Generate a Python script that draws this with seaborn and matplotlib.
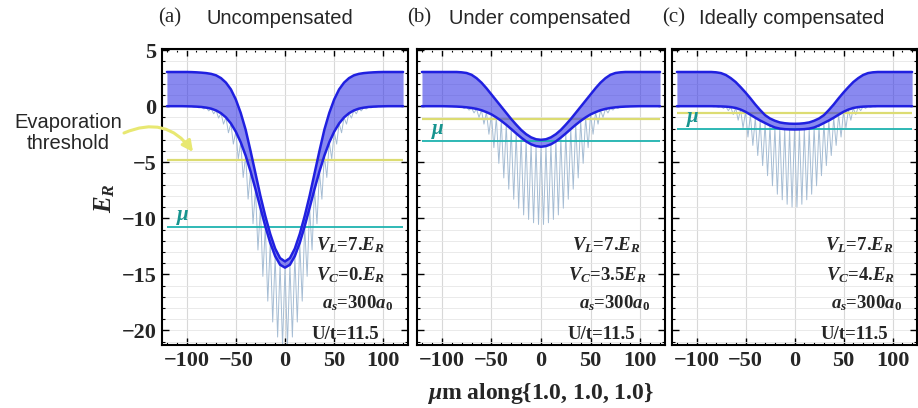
import numpy as np
import pandas as pd
import seaborn as sns
import matplotlib.pyplot as plt
from matplotlib.ticker import MultipleLocator

# positions along {1,1,1} in um; every profile is symmetric so only x >= 0 is listed
x_half = [0, 5, 10, 15, 20, 25, 30, 35, 40, 45, 50, 55, 60,
          65, 70, 75, 80, 85, 90, 95, 100, 105, 110, 115, 120]
# lattice sites (potential minima) between the listed points
x_site_half = [2.5, 7.5, 12.5, 17.5, 22.5, 27.5, 32.5, 37.5, 42.5, 47.5, 52.5, 57.5,
               62.5, 67.5, 72.5, 77.5, 82.5, 87.5, 92.5, 97.5, 102.5, 107.5, 112.5, 117.5]

panel_tags = ['(a)', '(b)', '(c)']
panel_titles = ['Uncompensated', 'Under compensated', 'Ideally compensated']
vc_text = ['0.', '3.5', '4.']
threshold = [-4.8, -1.16, -0.6]
mu = [-10.8, -3.14, -2.05]

# (a) uncompensated
band_low_a = [-14.4, -14.14, -13.37, -12.19, -10.71, -9.07, -7.40, -5.82, -4.41, -3.22, -2.27, -1.54, -1.00,
              -0.63, -0.38, -0.22, -0.13, -0.07, -0.04, -0.02, -0.01, 0, 0, 0, 0]
band_up_a = [-13.85, -13.55, -12.7, -11.4, -9.8, -8.0, -6.0, -4.0, -2.1, -0.6, 0.6, 1.5, 2.1,
             2.5, 2.75, 2.88, 2.95, 2.99, 3.02, 3.04, 3.05, 3.05, 3.05, 3.05, 3.05]
site_min_a = [-21.31, -20.59, -19.25, -17.39, -15.18, -12.83, -10.48, -8.29, -6.36, -4.71, -3.38, -2.37,
              -1.60, -1.06, -0.68, -0.42, -0.25, -0.15, -0.09, -0.05, -0.03, -0.02, -0.01, -0.01]

# (b) under compensated
band_low_b = [-3.62, -3.56, -3.40, -3.14, -2.80, -2.43, -2.04, -1.66, -1.31, -1.00, -0.73, -0.53, -0.36,
              -0.24, -0.16, -0.10, -0.06, -0.035, -0.02, -0.01, 0, 0, 0, 0, 0]
band_up_b = [-3.0, -2.95, -2.78, -2.5, -2.12, -1.65, -1.15, -0.6, -0.05, 0.5, 1.05, 1.6, 2.1,
             2.5, 2.8, 2.96, 3.02, 3.05, 3.05, 3.05, 3.05, 3.05, 3.05, 3.05, 3.05]
site_min_b = [-10.55, -10.4, -10.1, -9.7, -9.1, -8.3, -7.4, -6.4, -5.1, -3.7, -2.5, -1.6,
              -1.0, -0.6, -0.35, -0.2, -0.1, -0.05, -0.03, -0.02, -0.01, -0.01, 0, 0]

# (c) ideally compensated
band_low_c = [-2.08, -2.07, -2.05, -2.0, -1.9, -1.72, -1.5, -1.28, -1.03, -0.76, -0.5, -0.3, -0.16,
              -0.08, -0.04, -0.02, -0.01, 0, 0, 0, 0, 0, 0, 0, 0]
band_up_c = [-1.57, -1.56, -1.52, -1.45, -1.3, -1.1, -0.8, -0.35, 0.15, 0.7, 1.22, 1.7, 2.15,
             2.5, 2.78, 2.95, 3.02, 3.05, 3.05, 3.05, 3.05, 3.05, 3.05, 3.05, 3.05]
site_min_c = [-9.0, -8.75, -8.35, -7.85, -7.1, -6.2, -5.3, -4.4, -3.5, -2.75, -1.95, -1.25,
              -0.75, -0.4, -0.2, -0.1, -0.05, -0.02, -0.01, -0.01, 0, 0, 0, 0]

band_low = [band_low_a, band_low_b, band_low_c]
band_up = [band_up_a, band_up_b, band_up_c]
site_min = [site_min_a, site_min_b, site_min_c]


def mirror(xs, ys):
    xs = np.asarray(xs, float)
    ys = np.asarray(ys, float)
    if xs[0] == 0:
        return np.r_[-xs[:0:-1], xs], np.r_[ys[:0:-1], ys]
    return np.r_[-xs[::-1], xs], np.r_[ys[::-1], ys]


rows = []
for p in range(3):
    xf, lo = mirror(x_half, band_low[p])
    _, up = mirror(x_half, band_up[p])
    xs, mn = mirror(x_site_half, site_min[p])
    for xv, a, b in zip(xf, lo, up):
        rows.append((p, 'lower', xv, a))
        rows.append((p, 'upper', xv, b))
        rows.append((p, 'lattice', xv, a))
    for xv, m in zip(xs, mn):
        rows.append((p, 'lattice', xv, m))
df = pd.DataFrame(rows, columns=['panel', 'curve', 'x', 'E']).sort_values(['panel', 'curve', 'x'])

sns.set_theme(style='white')
plt.rcParams['font.family'] = ['Liberation Serif', 'DejaVu Serif']
plt.rcParams['font.weight'] = 'bold'
plt.rcParams['mathtext.fontset'] = 'custom'
plt.rcParams['mathtext.rm'] = 'Liberation Serif:bold'
plt.rcParams['mathtext.bf'] = 'Liberation Serif:bold'
plt.rcParams['mathtext.it'] = 'Liberation Serif:italic:bold'
plt.rcParams['axes.unicode_minus'] = True

W, H = 918, 408
fig = plt.figure(figsize=(W / 100, H / 100), dpi=100)
boxes = [(162, 408), (417, 665), (672, 917)]
top_px, bot_px = 49, 345

line_blue = '#2020e0'
fill_blue = '#3030e6'
lattice_col = '#a6bdd4'
yellow = '#dcdc72'
teal = '#1fb3b0'
teal_text = '#17948f'

for p, (l, r) in enumerate(boxes):
    ax = fig.add_axes([l / W, 1 - bot_px / H, (r - l) / W, (bot_px - top_px) / H])
    d = df[df.panel == p]
    lo = d[d.curve == 'lower']
    up = d[d.curve == 'upper']

    sns.lineplot(data=d[d.curve == 'lattice'], x='x', y='E', ax=ax, color=lattice_col,
                 linewidth=0.7, estimator=None, zorder=1.5)
    ax.hlines(threshold[p], lo.x.min(), lo.x.max(), color=yellow, lw=1.6, zorder=2)
    ax.fill_between(lo.x.values, lo.E.values, up.E.values, color=fill_blue, alpha=0.57,
                    lw=0, zorder=3)
    ax.hlines(mu[p], lo.x.min(), lo.x.max(), color=teal, lw=1.3, zorder=4)
    sns.lineplot(data=lo, x='x', y='E', ax=ax, color=line_blue, linewidth=1.8,
                 estimator=None, zorder=5)
    sns.lineplot(data=up, x='x', y='E', ax=ax, color=line_blue, linewidth=1.8,
                 estimator=None, zorder=5)

    ax.text(-104, mu[p] + 0.05, r'$\mu$', color=teal_text, fontsize=15, ha='center', va='bottom')

    notes = [r'$V_L$=7.$E_R$', r'$V_C$=' + vc_text[p] + r'$E_R$', r'$a_s$=300$a_0$', 'U/t=11.5']
    note_x = [66, 67, 74, 61]
    note_y = [-12.4, -15.1, -17.6, -20.4]
    for s, nx, ny in zip(notes, note_x, note_y):
        ax.text(nx, ny, s, fontsize=13.5, ha='center', va='center', zorder=6)

    ax.set_xlim(-125, 125)
    ax.set_ylim(-21.3, 5.1)
    ax.xaxis.set_major_locator(MultipleLocator(50))
    ax.xaxis.set_minor_locator(MultipleLocator(10))
    ax.yaxis.set_major_locator(MultipleLocator(5))
    ax.yaxis.set_minor_locator(MultipleLocator(1))
    ax.grid(which='major', axis='x', color='#d8d8d8', lw=0.8)
    ax.grid(which='both', axis='y', color='#e6e6e6', lw=0.6)
    ax.set_axisbelow(True)
    ax.tick_params(which='both', direction='in', top=True, right=True, bottom=True, left=True,
                   color='black', labelsize=16, pad=4)
    ax.tick_params(which='major', length=5, width=1)
    ax.tick_params(which='minor', length=2.5, width=0.8)
    if p > 0:
        ax.tick_params(labelleft=False)
    for sp in ax.spines.values():
        sp.set_color('black')
        sp.set_linewidth(1.5)
    ax.set_xlabel('')
    ax.set_ylabel('')

# panel headings
tag_x = [158, 407, 662]
title_x = [207, 449, 699]
for p in range(3):
    fig.text(tag_x[p] / W, 1 - 18 / H, panel_tags[p], fontsize=15, fontweight='normal',
             ha='left', va='center')
    fig.text(title_x[p] / W, 1 - 18 / H, panel_titles[p], fontsize=14.5, fontweight='normal',
             family='Liberation Sans', ha='left', va='center')

fig.text(105 / W, 1 - 198 / H, r'$E_R$', fontsize=18, rotation=90, ha='center', va='center')
fig.text(540 / W, 1 - 394 / H, r'$\mu$m along{1.0, 1.0, 1.0}', fontsize=17,
         ha='center', va='center')

fig.text(68 / W, 1 - 133 / H, 'Evaporation\nthreshold', fontsize=14.5, fontweight='normal',
         family='Liberation Sans', ha='center', va='center', linespacing=1.15)
fig.axes[0].annotate('', xy=(193, H - 152), xytext=(124, H - 133),
                     xycoords='figure pixels', textcoords='figure pixels',
                     arrowprops=dict(arrowstyle='-|>', color='#e8e872', lw=2.2,
                                     mutation_scale=16, shrinkA=0, shrinkB=0,
                                     connectionstyle='arc3,rad=-0.4'))

fig.savefig('out.png', dpi=100)
